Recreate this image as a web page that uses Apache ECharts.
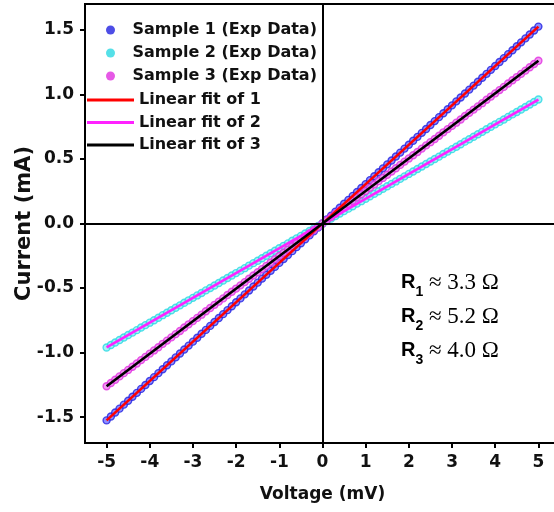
<!DOCTYPE html>
<html>
<head>
<meta charset="utf-8">
<script src="https://cdn.jsdelivr.net/npm/echarts@6/dist/echarts.min.js"></script>
<style>
html,body{margin:0;padding:0;background:#fff;}
#chart{width:554px;height:512px;}
</style>
</head>
<body>
<div id="chart"></div>
<script>
// ---- data ----
const voltage = [-5.0,-4.9,-4.8,-4.7,-4.6,-4.5,-4.4,-4.3,-4.2,-4.1,-4.0,-3.9,-3.8,-3.7,-3.6,-3.5,-3.4,-3.3,-3.2,-3.1,-3.0,-2.9,-2.8,-2.7,-2.6,-2.5,-2.4,-2.3,-2.2,-2.1,-2.0,-1.9,-1.8,-1.7,-1.6,-1.5,-1.4,-1.3,-1.2,-1.1,-1.0,-0.9,-0.8,-0.7,-0.6,-0.5,-0.4,-0.3,-0.2,-0.1,0.0,0.1,0.2,0.3,0.4,0.5,0.6,0.7,0.8,0.9,1.0,1.1,1.2,1.3,1.4,1.5,1.6,1.7,1.8,1.9,2.0,2.1,2.2,2.3,2.4,2.5,2.6,2.7,2.8,2.9,3.0,3.1,3.2,3.3,3.4,3.5,3.6,3.7,3.8,3.9,4.0,4.1,4.2,4.3,4.4,4.5,4.6,4.7,4.8,4.9,5.0];
const sample1 = [-1.525,-1.495,-1.464,-1.434,-1.403,-1.373,-1.342,-1.312,-1.281,-1.251,-1.220,-1.190,-1.159,-1.129,-1.098,-1.068,-1.037,-1.007,-0.976,-0.946,-0.915,-0.885,-0.854,-0.824,-0.793,-0.763,-0.732,-0.702,-0.671,-0.641,-0.610,-0.580,-0.549,-0.519,-0.488,-0.458,-0.427,-0.397,-0.366,-0.336,-0.305,-0.275,-0.244,-0.214,-0.183,-0.153,-0.122,-0.092,-0.061,-0.031,0.000,0.031,0.061,0.092,0.122,0.153,0.183,0.214,0.244,0.275,0.305,0.336,0.366,0.397,0.427,0.458,0.488,0.519,0.549,0.580,0.610,0.641,0.671,0.702,0.732,0.763,0.793,0.824,0.854,0.885,0.915,0.946,0.976,1.007,1.037,1.068,1.098,1.129,1.159,1.190,1.220,1.251,1.281,1.312,1.342,1.373,1.403,1.434,1.464,1.495,1.525];
const sample2 = [-0.960,-0.941,-0.922,-0.902,-0.883,-0.864,-0.845,-0.826,-0.806,-0.787,-0.768,-0.749,-0.730,-0.710,-0.691,-0.672,-0.653,-0.634,-0.614,-0.595,-0.576,-0.557,-0.538,-0.518,-0.499,-0.480,-0.461,-0.442,-0.422,-0.403,-0.384,-0.365,-0.346,-0.326,-0.307,-0.288,-0.269,-0.250,-0.230,-0.211,-0.192,-0.173,-0.154,-0.134,-0.115,-0.096,-0.077,-0.058,-0.038,-0.019,0.000,0.019,0.038,0.058,0.077,0.096,0.115,0.134,0.154,0.173,0.192,0.211,0.230,0.250,0.269,0.288,0.307,0.326,0.346,0.365,0.384,0.403,0.422,0.442,0.461,0.480,0.499,0.518,0.538,0.557,0.576,0.595,0.614,0.634,0.653,0.672,0.691,0.710,0.730,0.749,0.768,0.787,0.806,0.826,0.845,0.864,0.883,0.902,0.922,0.941,0.960];
const sample3 = [-1.260,-1.235,-1.210,-1.184,-1.159,-1.134,-1.109,-1.084,-1.058,-1.033,-1.008,-0.983,-0.958,-0.932,-0.907,-0.882,-0.857,-0.832,-0.806,-0.781,-0.756,-0.731,-0.706,-0.680,-0.655,-0.630,-0.605,-0.580,-0.554,-0.529,-0.504,-0.479,-0.454,-0.428,-0.403,-0.378,-0.353,-0.328,-0.302,-0.277,-0.252,-0.227,-0.202,-0.176,-0.151,-0.126,-0.101,-0.076,-0.050,-0.025,0.000,0.025,0.050,0.076,0.101,0.126,0.151,0.176,0.202,0.227,0.252,0.277,0.302,0.328,0.353,0.378,0.403,0.428,0.454,0.479,0.504,0.529,0.554,0.580,0.605,0.630,0.655,0.680,0.706,0.731,0.756,0.781,0.806,0.832,0.857,0.882,0.907,0.932,0.958,0.983,1.008,1.033,1.058,1.084,1.109,1.134,1.159,1.184,1.210,1.235,1.260];
const fitX = [-5, 5];
const fit1 = [-1.525, 1.525];
const fit2 = [-0.960, 0.960];
const fit3 = [-1.260, 1.260];
const xTicks = [-5,-4,-3,-2,-1,0,1,2,3,4,5];
const yTicks = [-1.5,-1.0,-0.5,0.0,0.5,1.0,1.5];
const sampleNames = ['Sample 1 (Exp Data)','Sample 2 (Exp Data)','Sample 3 (Exp Data)'];
const fitNames = ['Linear fit of 1','Linear fit of 2','Linear fit of 3'];
const resistances = ['3.3','5.2','4.0'];

// ---- chart ----
const chart = echarts.init(document.getElementById('chart'));
const zip = (xs, ys) => xs.map((x, i) => [x, ys[i]]);
const SANS = 'DejaVu Sans';
const sampleColors = ['#2020e0','#2ad8e2','#e030e0'];
const sampleFill = ['#7070ff','#90f0f6','#f080f0'];
const fitColors = ['#ff0000','#ff22ff','#000000'];

const series = [];
[sample1, sample2, sample3].forEach((s, i) => {
  series.push({
    name: sampleNames[i], type: 'scatter', data: zip(voltage, s),
    symbol: 'circle', symbolSize: 7,
    itemStyle: { color: sampleFill[i], borderColor: sampleColors[i], borderWidth: 1.4 },
    z: 2
  });
});
[fit1, fit2, fit3].forEach((f, i) => {
  series.push({
    name: fitNames[i], type: 'line', data: zip(fitX, f),
    symbol: 'none', showSymbol: false,
    lineStyle: { color: fitColors[i], width: 2.6 },
    itemStyle: { color: fitColors[i] },
    z: 3
  });
});
// zero cross lines
series.push({
  type: 'line', data: [], silent: true, z: 1,
  markLine: {
    symbol: 'none', silent: true, animation: false,
    label: { show: false },
    lineStyle: { color: '#000', width: 2, type: 'solid' },
    data: [{ xAxis: 0 }, { yAxis: 0 }]
  }
});

const richLines = resistances.map((r, i) => ({
  type: 'text', left: 401, top: 271 + i * 34,
  style: {
    text: '{r|R}{s|' + (i + 1) + '}{t| ≈ ' + r + ' Ω}',
    rich: {
      r: { fontFamily: 'Liberation Sans', fontWeight: 'bold', fontSize: 20, fill: '#000', verticalAlign: 'middle', lineHeight: 28 },
      s: { fontFamily: 'Liberation Sans', fontWeight: 'bold', fontSize: 14, fill: '#000', verticalAlign: 'bottom', lineHeight: 28, padding: [0, 0, -3, 0] },
      t: { fontFamily: 'Liberation Serif', fontSize: 23, fill: '#000', verticalAlign: 'middle', lineHeight: 28 }
    }
  }
}));

chart.setOption({
  animation: false,
  backgroundColor: '#fff',
  grid: { left: 85, top: 4, width: 475, height: 439, outerBoundsMode: 'none', containLabel: false, show: true, borderColor: '#000', borderWidth: 2, backgroundColor: 'transparent' },
  legend: [
    {
      data: sampleNames.map((n, i) => ({ name: n, icon: 'circle', itemStyle: { color: sampleColors[i], borderWidth: 0 } })),
      orient: 'vertical', left: 106, top: 22, padding: 0,
      itemWidth: 34, itemHeight: 9, itemGap: 7,
      textStyle: { fontFamily: SANS, fontWeight: 'bold', fontSize: 16, color: '#111', lineHeight: 16 }
    },
    {
      data: fitNames.map((n, i) => ({ name: n, icon: 'rect', itemStyle: { color: fitColors[i], borderWidth: 0 } })),
      orient: 'vertical', left: 87, top: 92, padding: 0,
      itemWidth: 47, itemHeight: 3, itemGap: 6.5,
      textStyle: { fontFamily: SANS, fontWeight: 'bold', fontSize: 16, color: '#111', lineHeight: 16 }
    }
  ],
  xAxis: {
    type: 'value', min: -5.5, max: 5.5,
    name: 'Voltage (mV)', nameLocation: 'middle', nameGap: 43, nameMoveOverlap: false,
    nameTextStyle: { fontFamily: SANS, fontWeight: 'bold', fontSize: 17, color: '#111' },
    axisLine: { show: true, onZero: false, lineStyle: { color: '#000', width: 2 } },
    axisTick: { show: true, inside: false, length: 5, customValues: xTicks, lineStyle: { color: '#000', width: 2 } },
    axisLabel: { customValues: xTicks, margin: 11, fontFamily: SANS, fontWeight: 'bold', fontSize: 17, color: '#111' },
    splitLine: { show: false }
  },
  yAxis: {
    type: 'value', min: -1.7, max: 1.7,
    name: 'Current (mA)', nameLocation: 'middle', nameGap: 50, nameMoveOverlap: false,
    nameTextStyle: { fontFamily: SANS, fontWeight: 'bold', fontSize: 21, color: '#111' },
    axisLine: { show: true, onZero: false, lineStyle: { color: '#000', width: 2 } },
    axisTick: { show: true, inside: false, length: 5, customValues: yTicks, lineStyle: { color: '#000', width: 2 } },
    axisLabel: { customValues: yTicks, margin: 11, fontFamily: SANS, fontWeight: 'bold', fontSize: 17, color: '#111', formatter: (v) => v.toFixed(1) },
    splitLine: { show: false }
  },
  graphic: richLines,
  series: series
});
</script>
</body>
</html>
